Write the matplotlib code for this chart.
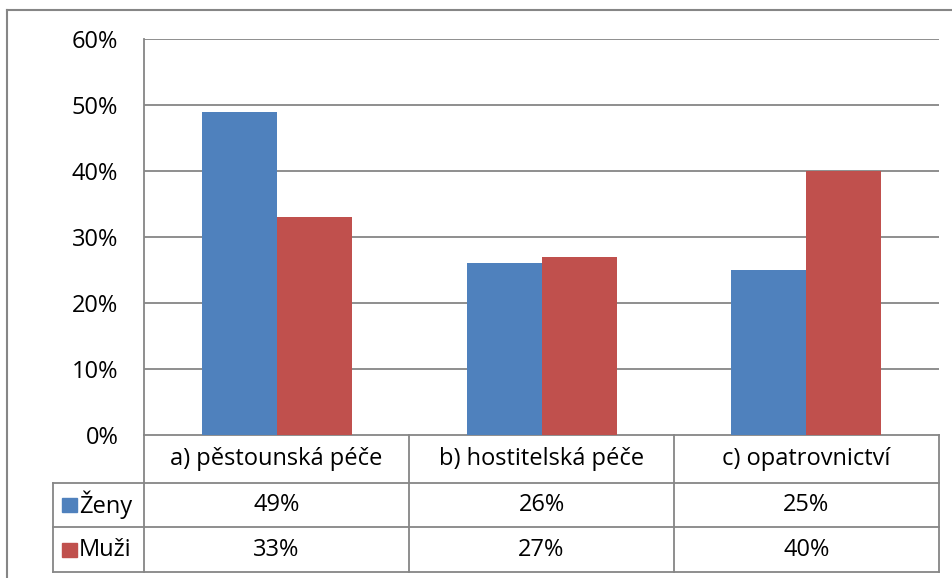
import numpy as np
import matplotlib
matplotlib.use('Agg')
from matplotlib import pyplot as plt
from matplotlib.lines import Line2D
from matplotlib.patches import Rectangle

#Data
categories = ['a) pěstounská péče', 'b) hostitelská péče', 'c) opatrovnictví']
series_names = ['Ženy', 'Muži']
zeny = [49, 26, 25]
muzi = [33, 27, 40]
yticks = [0, 10, 20, 30, 40, 50, 60]
colors = ['#4F81BD', '#C0504D']
grid_col = '#868686'

plt.rcParams['font.family'] = ['Open Sans', 'DejaVu Sans']
fs = 17

fig = plt.figure(figsize=(9.53, 5.78), dpi=100)
ax = fig.add_axes([144/953, 1-435/578, (939-144)/953, (435-39)/578])

x = np.arange(len(categories))
w = 75/265
ax.bar(x - w/2, zeny, w, color=colors[0], zorder=3)
ax.bar(x + w/2, muzi, w, color=colors[1], zorder=3)

ax.set_xlim(-0.5, len(categories)-0.5)
ax.set_ylim(0, 60)
ax.set_yticks(yticks)
ax.set_yticklabels([str(v)+'%' for v in yticks], fontsize=fs)
ax.tick_params(axis='y', length=0, pad=18.5)
ax.set_xticks([])
for v in yticks[1:]:
    ax.axhline(v, color=grid_col, lw=1.3, zorder=1)
for s in ['top', 'right', 'bottom']:
    ax.spines[s].set_visible(False)
ax.spines['left'].set_color(grid_col)
ax.spines['left'].set_linewidth(1.3)

#Data table below the plot (axes fraction for y, data units for x)
tr = ax.get_xaxis_transform()
h = 396.0
rows = [0, -48/h, -(48+44)/h, -(48+44+45)/h]
xl = -0.5 - 91/265
xr = len(categories) - 0.5
def hline(y, x0, x1):
    ax.add_line(Line2D([x0, x1], [y, y], transform=tr, color=grid_col, lw=1.3, clip_on=False))
def vline(xx, y0, y1):
    ax.add_line(Line2D([xx, xx], [y0, y1], transform=tr, color=grid_col, lw=1.3, clip_on=False))

hline(rows[0], -0.5, xr)
for r in rows[1:]:
    hline(r, xl, xr)
vline(xl, rows[1], rows[3])
for i in range(len(categories)+1):
    vline(i - 0.5, rows[0], rows[3])

for i, c in enumerate(categories):
    ax.text(i, (rows[0]+rows[1])/2, c, transform=tr, ha='center', va='center', fontsize=fs)
    ax.text(i, (rows[1]+rows[2])/2, str(zeny[i])+'%', transform=tr, ha='center', va='center', fontsize=fs)
    ax.text(i, (rows[2]+rows[3])/2, str(muzi[i])+'%', transform=tr, ha='center', va='center', fontsize=fs)

for j, name in enumerate(series_names):
    yc = (rows[j+1]+rows[j+2])/2
    sq = 14/h
    ax.add_patch(Rectangle((xl + 9/265, yc - sq/2), 15/265, sq, transform=tr,
                           color=colors[j], clip_on=False))
    ax.text(xl + 26/265, yc, name, transform=tr, ha='left', va='center', fontsize=fs)

#Outer border
fig.add_artist(Line2D([7/953, 1], [1-10/578, 1-10/578], color=grid_col, lw=1.5))
fig.add_artist(Line2D([7/953, 7/953], [0, 1-10/578], color=grid_col, lw=1.5))

fig.savefig('out.png', dpi=100)
